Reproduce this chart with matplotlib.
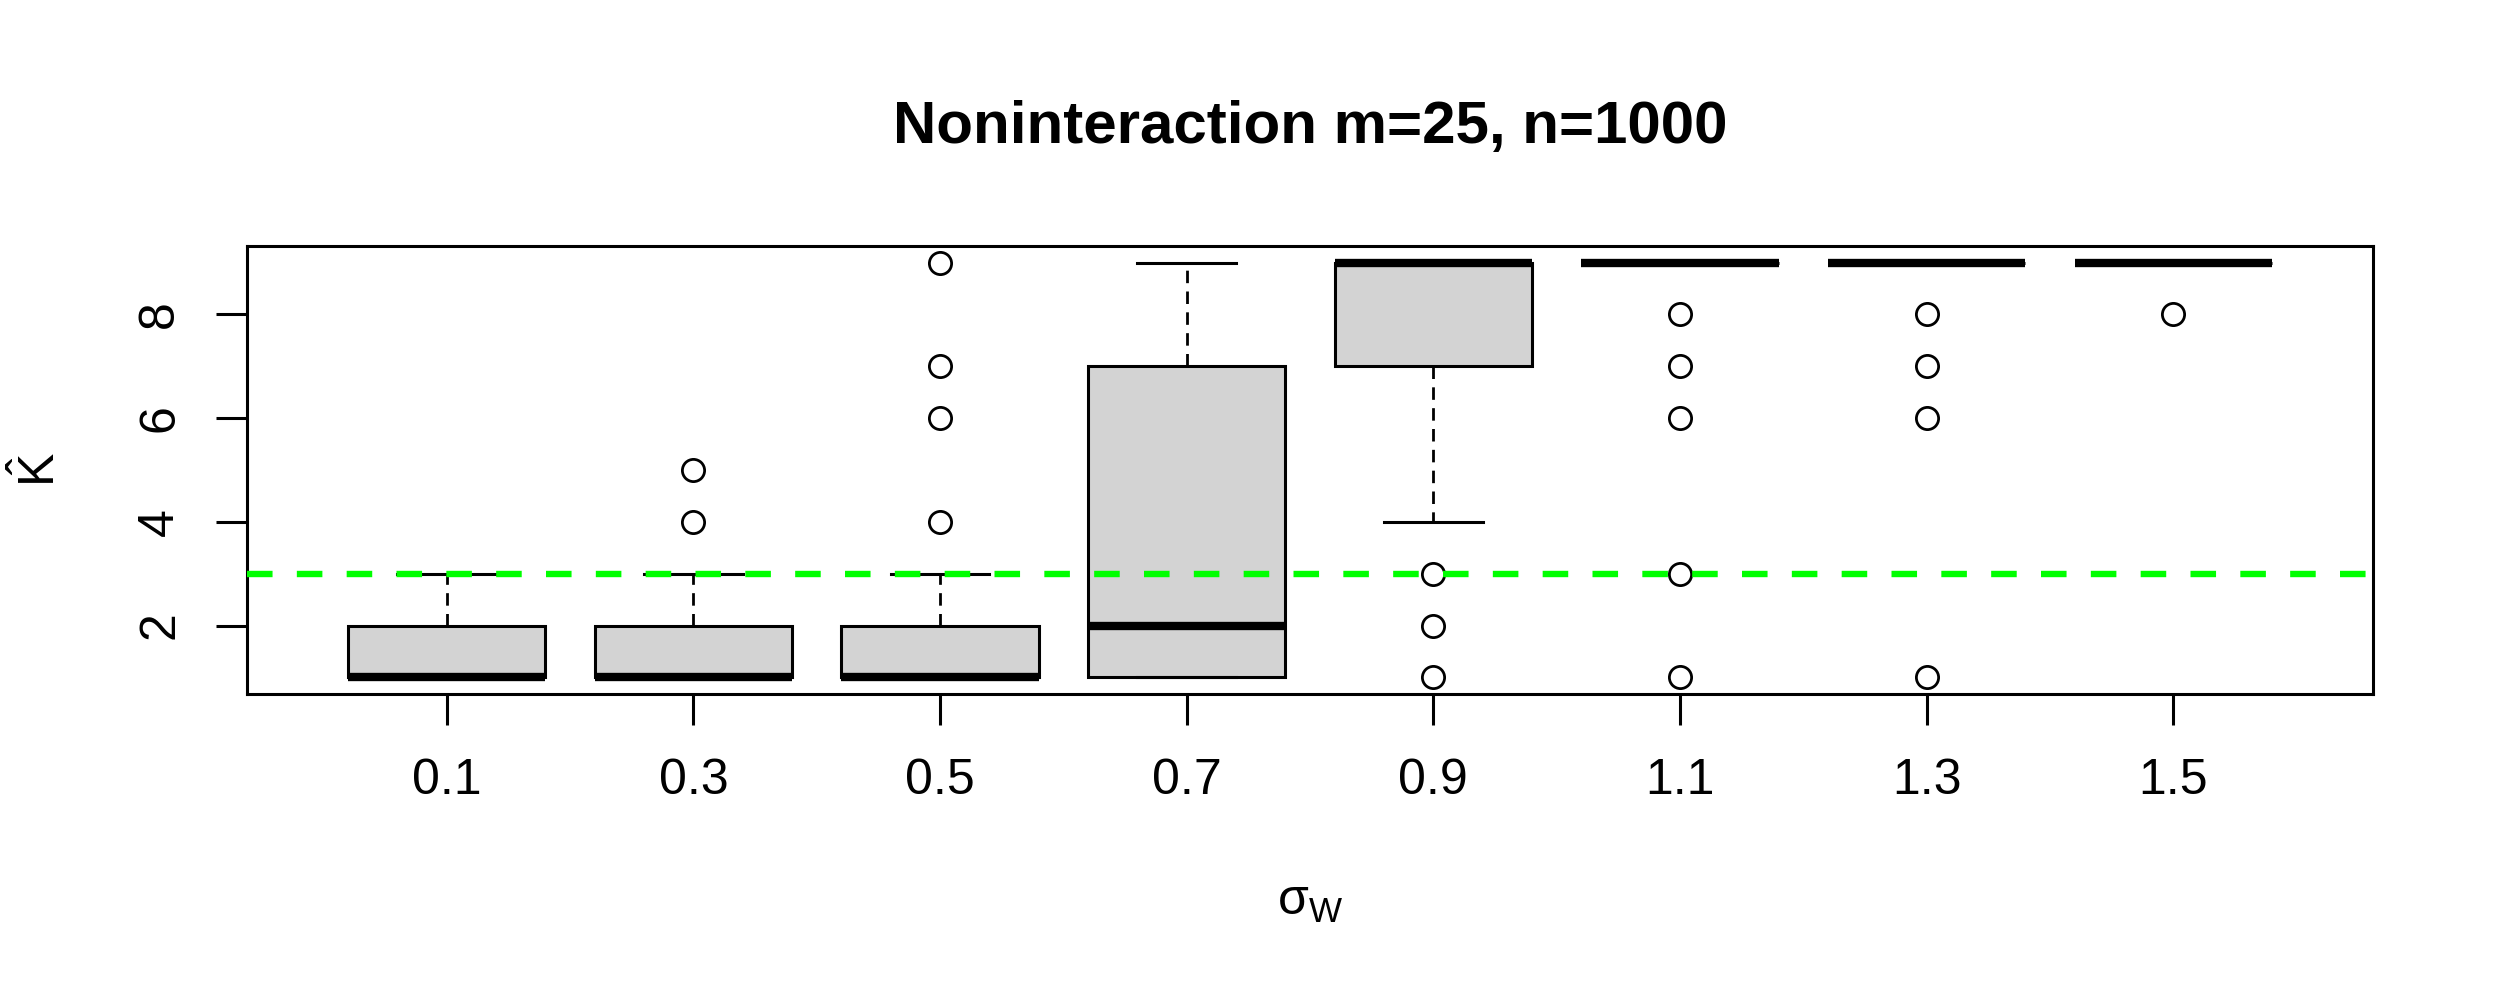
import matplotlib

matplotlib.use('Agg')
import matplotlib.pyplot as plt

# sigma_W levels and the box summaries
sigma_labels = ['0.1', '0.3', '0.5', '0.7', '0.9', '1.1', '1.3', '1.5']
q1 = [1, 1, 1, 1, 7, 9, 9, 9]
med = [1, 1, 1, 2, 9, 9, 9, 9]
q3 = [2, 2, 2, 7, 9, 9, 9, 9]
whis_lo = [1, 1, 1, 1, 4, 9, 9, 9]
whis_hi = [3, 3, 3, 9, 9, 9, 9, 9]
outliers = [
    [],
    [4, 5],
    [4, 6, 7, 9],
    [],
    [1, 2, 3],
    [1, 3, 6, 7, 8],
    [1, 6, 7, 8],
    [8],
]
true_k = 3

plt.rcParams['font.family'] = ['Liberation Sans', 'DejaVu Sans']
plt.rcParams['mathtext.fontset'] = 'custom'
plt.rcParams['mathtext.rm'] = 'Liberation Sans'
plt.rcParams['mathtext.it'] = 'Liberation Sans:italic'

stats = []
for i in range(len(sigma_labels)):
    stats.append({
        'q1': q1[i], 'med': med[i], 'q3': q3[i],
        'whislo': whis_lo[i], 'whishi': whis_hi[i],
        'fliers': outliers[i],
    })

fig = plt.figure(figsize=(12.5, 5), dpi=200)
ax = fig.add_axes([0.0988, 0.306, 0.8504, 0.448])

positions = list(range(1, len(sigma_labels) + 1))
ax.bxp(stats, positions=positions, widths=0.8, patch_artist=True,
       showfliers=True,
       boxprops=dict(facecolor='#D3D3D3', edgecolor='black', linewidth=1.1),
       medianprops=dict(color='black', linewidth=3.0, solid_capstyle='butt'),
       whiskerprops=dict(color='black', linewidth=1.0, linestyle=(0, (4.5, 3.0))),
       capprops=dict(color='black', linewidth=1.1),
       flierprops=dict(marker='o', markersize=8, markerfacecolor='none',
                       markeredgecolor='black', markeredgewidth=1.0))

ax.axhline(true_k, color='#00FF00', linewidth=2.3, linestyle=(0, (4.0, 3.8)),
           zorder=5)

ax.set_xlim(0.19, 8.81)
ax.set_ylim(0.68, 9.32)
ax.set_xticks(positions)
ax.set_xticklabels(sigma_labels)
ax.set_yticks([2, 4, 6, 8])

for s in ax.spines.values():
    s.set_linewidth(1.1)
ax.tick_params(axis='both', direction='out', length=11, width=1.1,
               labelsize=18, pad=12)
plt.setp(ax.get_yticklabels(), rotation=90, va='center')

ax.set_title('Noninteraction m=25, n=1000', fontsize=21.6, fontweight='bold',
             pad=37)
ax.set_xlabel(r'$\mathrm{\sigma}_{\mathrm{W}}$', fontsize=18, labelpad=27)
ax.set_ylabel(r'$\hat{\mathrm{K}}$', fontsize=18, labelpad=26)

fig.savefig('out.png', dpi=200)
